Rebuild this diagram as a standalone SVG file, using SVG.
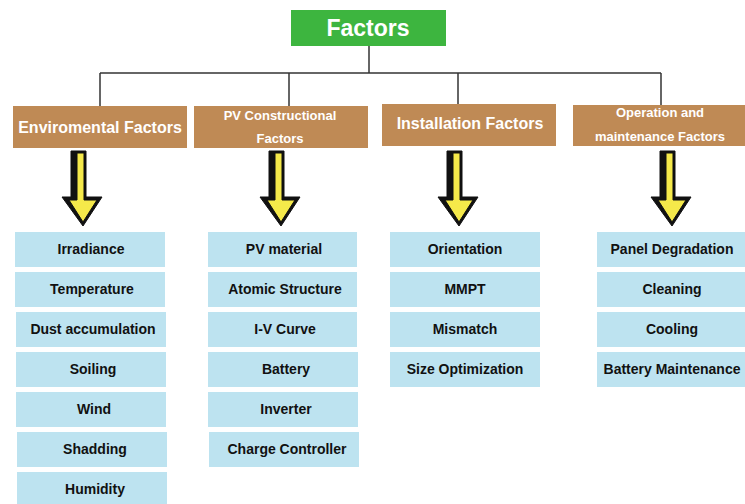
<svg xmlns="http://www.w3.org/2000/svg" xmlns:xlink="http://www.w3.org/1999/xlink" width="745" height="504" viewBox="0 0 745 504">
<defs>
<style>
.top{fill:#3db53f;}
.cat{fill:#bf8a55;}
.item{fill:#bde3f0;}
.ttl{font-family:"Liberation Sans",Arial,sans-serif;font-weight:bold;fill:#ffffff;text-anchor:middle;}
.it{font-family:"Liberation Sans",Arial,sans-serif;font-weight:bold;font-size:14px;fill:#111111;text-anchor:middle;}
.ln{stroke:#333333;stroke-width:1.5;fill:none;}
.ay{fill:#f5e94a;stroke:#111111;stroke-width:1;stroke-linejoin:round;}
.ab{fill:#111111;stroke:#111111;stroke-width:1;stroke-linejoin:round;}
</style>
<g id="arrowShape">
<polygon class="ab" points="-9,0 6,0 6,46 22,46 3,75 -18,46 -9,46"/>
<polygon class="ay" points="-3,2 4,2 4,49 17,49 3,71 -11,49 -3,49"/>
</g>
</defs>
<rect width="745" height="504" fill="#ffffff"/>
<g id="connectors">
<line class="ln" x1="369" y1="46" x2="369" y2="73"/>
<line class="ln" x1="100" y1="73" x2="661" y2="73"/>
<line class="ln" x1="100" y1="73" x2="100" y2="106"/>
<line class="ln" x1="289" y1="73" x2="289" y2="106"/>
<line class="ln" x1="458" y1="73" x2="458" y2="104"/>
<line class="ln" x1="661" y1="73" x2="661" y2="105"/>
<use xlink:href="#arrowShape" transform="translate(80,151)"/>
<use xlink:href="#arrowShape" transform="translate(278,151)"/>
<use xlink:href="#arrowShape" transform="translate(456,151)"/>
<use xlink:href="#arrowShape" transform="translate(669,151)"/>
</g>
<g id="factors">
<rect class="top" x="291" y="10" width="155" height="36"/>
<text class="ttl" x="368" y="36" font-size="23">Factors</text>
</g>
<g id="env">
<rect class="cat" x="13" y="106" width="174" height="42"/>
<text class="ttl" x="100" y="133" font-size="16">Enviromental Factors</text>
</g>
<g id="pv">
<rect class="cat" x="194" y="106" width="174" height="42"/>
<text class="ttl" x="280" y="120" font-size="13">PV Constructional</text>
<text class="ttl" x="280" y="143" font-size="13">Factors</text>
</g>
<g id="inst">
<rect class="cat" x="382" y="104" width="174" height="42"/>
<text class="ttl" x="470" y="129" font-size="16">Installation Factors</text>
</g>
<g id="oper">
<rect class="cat" x="573" y="105" width="173" height="41"/>
<text class="ttl" x="660" y="117" font-size="13">Operation and</text>
<text class="ttl" x="660" y="141" font-size="13">maintenance Factors</text>
</g>
<g id="irradiance"><rect class="item" x="15" y="232" width="150" height="35"/><text class="it" x="91" y="254">Irradiance</text></g>
<g id="temperature"><rect class="item" x="15" y="272" width="150" height="35"/><text class="it" x="92" y="294">Temperature</text></g>
<g id="dust"><rect class="item" x="16" y="312" width="150" height="35"/><text class="it" x="93" y="334">Dust accumulation</text></g>
<g id="soiling"><rect class="item" x="16" y="352" width="150" height="35"/><text class="it" x="93" y="374">Soiling</text></g>
<g id="wind"><rect class="item" x="16" y="392" width="150" height="35"/><text class="it" x="94" y="414">Wind</text></g>
<g id="shadding"><rect class="item" x="17" y="432" width="150" height="35"/><text class="it" x="95" y="454">Shadding</text></g>
<g id="humidity"><rect class="item" x="17" y="472" width="150" height="34"/><text class="it" x="95" y="494">Humidity</text></g>
<g id="pvmaterial"><rect class="item" x="208" y="232" width="149" height="35"/><text class="it" x="284" y="254">PV material</text></g>
<g id="atomic"><rect class="item" x="208" y="272" width="149" height="35"/><text class="it" x="285" y="294">Atomic Structure</text></g>
<g id="ivcurve"><rect class="item" x="208" y="312" width="149" height="35"/><text class="it" x="285" y="334">I-V Curve</text></g>
<g id="battery"><rect class="item" x="208" y="352" width="150" height="35"/><text class="it" x="286" y="374">Battery</text></g>
<g id="inverter"><rect class="item" x="208" y="392" width="150" height="35"/><text class="it" x="286" y="414">Inverter</text></g>
<g id="charge"><rect class="item" x="209" y="432" width="150" height="35"/><text class="it" x="287" y="454">Charge Controller</text></g>
<g id="orientation"><rect class="item" x="390" y="232" width="150" height="35"/><text class="it" x="465" y="254">Orientation</text></g>
<g id="mmpt"><rect class="item" x="390" y="272" width="150" height="35"/><text class="it" x="465" y="294">MMPT</text></g>
<g id="mismatch"><rect class="item" x="390" y="312" width="150" height="35"/><text class="it" x="465" y="334">Mismatch</text></g>
<g id="size"><rect class="item" x="390" y="352" width="150" height="35"/><text class="it" x="465" y="374">Size Optimization</text></g>
<g id="panel"><rect class="item" x="597" y="232" width="149" height="35"/><text class="it" x="672" y="254">Panel Degradation</text></g>
<g id="cleaning"><rect class="item" x="597" y="272" width="149" height="35"/><text class="it" x="672" y="294">Cleaning</text></g>
<g id="cooling"><rect class="item" x="597" y="312" width="149" height="35"/><text class="it" x="672" y="334">Cooling</text></g>
<g id="batmaint"><rect class="item" x="597" y="352" width="149" height="35"/><text class="it" x="672" y="374">Battery Maintenance</text></g>
</svg>
